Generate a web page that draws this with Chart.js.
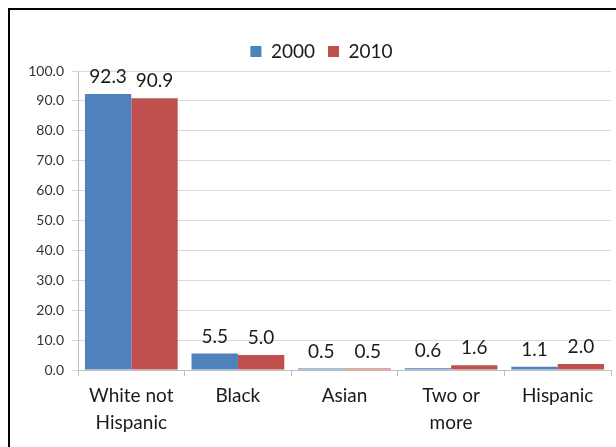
<!DOCTYPE html>
<html>
<head>
<meta charset="utf-8">
<script src="https://cdn.jsdelivr.net/npm/chart.js@4/dist/chart.umd.min.js"></script>
<style>
  html, body { margin: 0; padding: 0; background: #ffffff; }
  body { width: 616px; height: 447px; position: relative; overflow: hidden; }
  #frame {
    position: absolute; left: 8px; top: 8px; width: 608px; height: 439px;
    border-left: 2px solid #000; border-top: 2px solid #000; box-sizing: border-box;
  }
  #chart { position: absolute; left: 10px; top: 10px; }
</style>
</head>
<body>
<div id="frame"></div>
<canvas id="chart" width="606" height="437"></canvas>
<script>
// Population share by race / ethnicity (percent)
const categories = [["White not", "Hispanic"], "Black", "Asian", ["Two or", "more"], "Hispanic"];
const series2000 = [92.3, 5.5, 0.5, 0.6, 1.1];
const series2010 = [90.9, 5.0, 0.5, 1.6, 2.0];
const yTicks = [0, 10, 20, 30, 40, 50, 60, 70, 80, 90, 100];

const FONT = "Lato, 'Open Sans', sans-serif";

// Value labels drawn just above each bar
const barValueLabels = {
  id: 'barValueLabels',
  afterDatasetsDraw(chart) {
    const ctx = chart.ctx;
    ctx.save();
    ctx.font = "19px " + FONT;
    ctx.fillStyle = '#1a1a1a';
    ctx.textAlign = 'center';
    ctx.textBaseline = 'middle';
    chart.data.datasets.forEach((ds, i) => {
      chart.getDatasetMeta(i).data.forEach((bar, j) => {
        ctx.fillText(ds.data[j].toFixed(1), bar.x, bar.y - 17);
      });
    });
    ctx.restore();
  }
};

// Nudge the legend so it sits centred over the plot area rather than the canvas
const legendShift = {
  id: 'legendShift',
  afterLayout(chart) {
    if (chart.legend) { chart.legend.left += 11; chart.legend.right += 11; }
  }
};

new Chart(document.getElementById('chart'), {
  type: 'bar',
  data: {
    labels: categories,
    datasets: [
      { label: '2000', data: series2000, backgroundColor: '#4f81bd' },
      { label: '2010', data: series2010, backgroundColor: '#c0504d' }
    ]
  },
  options: {
    responsive: false,
    animation: false,
    devicePixelRatio: 1,
    layout: { padding: { left: 0, right: 5, top: 19, bottom: 0 } },
    datasets: { bar: { categoryPercentage: 0.87, barPercentage: 1.0 } },
    plugins: {
      tooltip: { enabled: false },
      legend: {
        position: 'top',
        labels: {
          boxWidth: 11, boxHeight: 11, padding: 13,
          color: '#1a1a1a',
          font: { family: FONT, size: 19 }
        }
      }
    },
    scales: {
      x: {
        offset: true,
        grid: { offset: true, drawOnChartArea: false, drawTicks: true, tickLength: 6, color: '#bfbfbf' },
        border: { color: '#bfbfbf' },
        ticks: { color: '#1a1a1a', padding: 6, maxRotation: 0, autoSkip: false,
                 font: { family: FONT, size: 19, lineHeight: 1.42 } },
        afterFit(scale) { scale.height = 77; }
      },
      y: {
        min: 0, max: 100,
        afterBuildTicks(scale) { scale.ticks = yTicks.map(v => ({ value: v })); },
        grid: { color: '#d9d9d9', tickLength: 6, drawTicks: true },
        border: { color: '#bfbfbf' },
        ticks: { color: '#333333', padding: 8, font: { family: FONT, size: 14 },
                 callback: v => Number(v).toFixed(1) },
        afterFit(scale) { scale.width = 68; }
      }
    }
  },
  plugins: [barValueLabels, legendShift]
});
</script>
</body>
</html>
